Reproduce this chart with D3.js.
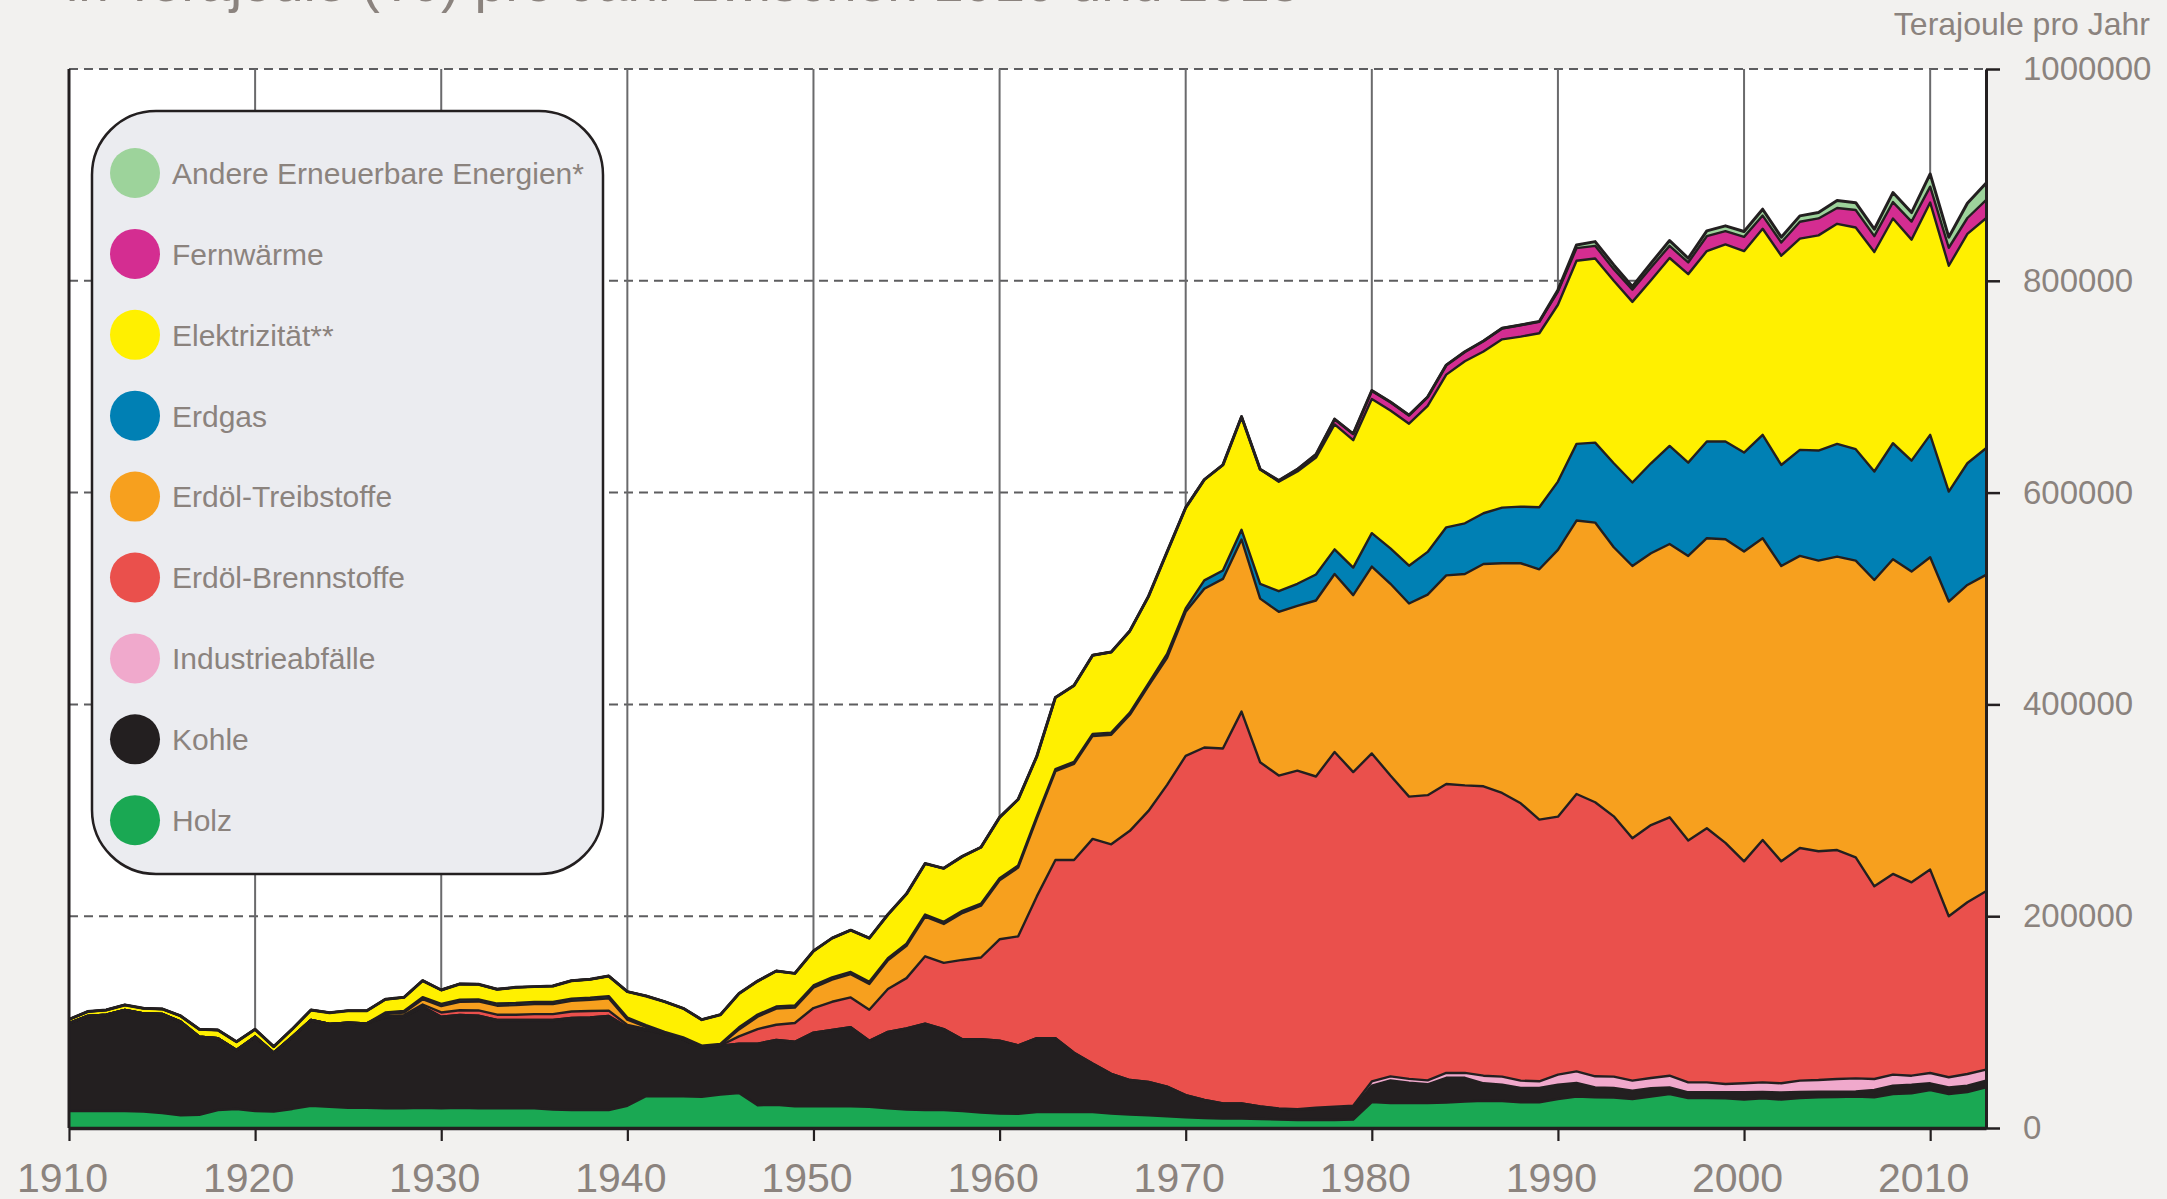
<!DOCTYPE html>
<html><head><meta charset="utf-8">
<script src="https://cdn.jsdelivr.net/npm/d3@7"></script>
<style>
body{margin:0;background:#f2f1ef;}
svg text{font-family:'Liberation Sans',Arial,sans-serif;}
</style>
</head><body>
<svg id="chart" width="2167" height="1199"></svg>
<script>
// ---- DATA (values in thousand TJ per year) ----
const firstYear = 1910, lastYear = 2013;
const decades = [1910,1920,1930,1940,1950,1960,1970,1980,1990,2000,2010];
const yTicks = [0,200000,400000,600000,800000,1000000];

const holz = [16,16,16,16,15.5,14,12,12.5,17,18,
  16,15.5,18,21,20,19,19,18.5,18.5,19,
  18.5,19,18.5,18.5,18.5,18.5,17.5,17,17,17,
  21,30,30,30,29.5,31.5,33,21.5,22,20.5,
  20.5,20.5,20.5,20,18.5,17.5,17,17,16,14.5,
  13.7,13.4,15,15,15,15,13.7,12.7,12,11,
  10,9.5,9,9,8.5,8,7.5,7.5,7.5,8,
  24.5,23.5,23.5,23.5,24,25,25.8,25.5,24.2,24.2,
  27.4,29.6,29,28.7,27.4,29.6,32.1,28.3,28.3,28,
  26.8,28,26.8,28.3,29,29.3,29.6,29,32.1,32.7,
  35.9,32.1,34,38.4];
const kohle = [83,89.8,91,95.4,92.8,93.7,88.4,73.8,67.7,55.7,
  70.3,55.6,68.3,81,78.2,80.5,79.8,86,86.6,95.6,
  86.6,87.7,87.5,83.5,83.5,83.5,84.5,87,87.5,88.8,
  74.1,62.6,58.8,53.7,46.7,46.2,46.7,58.2,61.1,60.9,
  69.5,72.2,74.6,62.4,72.2,76.6,81.6,76.4,67.8,69.3,
  68.7,64.6,69.8,69.8,56.1,45.8,37.5,32.6,31.6,28,
  21,17,14.2,14.2,11.9,10.1,9.7,10.6,11,11,
  15.5,21.5,19.2,17.8,23.4,22.4,16.4,15.5,13.6,13.6,
  13.5,12.9,9.4,9.1,7.9,7.9,6.3,5.4,5.4,5.7,
  6.9,6,6.7,5.7,5.3,5,5,6.9,7.9,8.2,
  6.3,6.3,6,6.3];
const industrie = [0,0,0,0,0,0,0,0,0,0,
  0,0,0,0,0,0,0,0,0,0,
  0,0,0,0,0,0,0,0,0,0,
  0,0,0,0,0,0,0,0,0,0,
  0,0,0,0,0,0,0,0,0,0,
  0,0,0,0,0,0,0,0,0,0,
  0,0,0,0,0,0.3,0.5,1,1.5,2,
  4,3.7,3.7,3.7,4.6,4.6,7.2,7.5,6.9,6.3,
  9.5,11,10.4,10.7,9.4,9.7,11,9.4,9.4,7.9,
  8.5,9.1,8.7,10.7,11,12,12.3,10.4,10.4,8.5,
  9.7,9.5,11,10.4];
const brenn = [0,0,0,0,0,0,0,0,0,0,
  0,0,0,0,0,0,0,1,1.5,2,
  4,4.5,5,5,5,5.5,5.5,6,6,5,
  2.2,1,0,0,0,0.2,6.8,13.7,14.4,17.8,
  23.3,26.5,28.2,29.2,40.5,47.4,63.5,62.5,74.9,77.2,
  95.8,103,133.9,168.3,182,212.2,216.7,235.3,255.8,285,
  320.4,332.8,335.2,370,325,314.4,319.8,312.8,335.1,315.1,
  309.7,284.1,266.5,269.3,272.9,271.5,273.3,267.9,261.9,247.1,
  243.6,261.9,258.8,245.8,228.9,238.9,244,228.3,239.9,227.6,
  209.6,228.9,209.6,219.7,216,216.2,208.7,181.9,189.5,182.6,
  192.1,152,162.1,168.4];
const treib = [0,0,0,0,0,0,0,0,0,0,
  0,0,0,0,0,0,0,2,2.5,5,
  6,8,8.5,8.5,9,9.5,9.5,10,10.5,11.7,
  5,2,0.5,0.3,0.2,0.3,6.6,11.7,15.2,14.5,
  19.3,21,22,24.4,27.2,30.6,37.5,36.8,44.3,48.9,
  55.7,64.9,73.6,83.8,90.7,97.2,103.4,109.6,118,120,
  136,149.9,160.1,162.5,154.5,154.6,155.5,166.2,168,167.1,
  176.4,181.1,182.4,189.4,196.9,199.6,209.9,216.9,226.7,236.4,
  251.9,258.2,264.1,254.1,257.1,256.6,258.1,268.8,273.9,286.7,
  292.5,284.9,278.9,275.8,274.5,277.1,280.2,289.3,297.1,293.4,
  294.9,297.2,299.7,298.8];
const erdgas = [0,0,0,0,0,0,0,0,0,0,
  0,0,0,0,0,0,0,1.5,1.5,2,
  2,2,2,2,2,2,2,2,2,2,
  2,1.5,1.5,1.5,1.4,1.2,2,2,2,2,
  2,2,2,2,2,2,2,2,2,2,
  2,2,2,2,2,2,2,2,2.5,3.7,
  3.3,7.9,7.9,9.2,14,19.5,20.9,24.6,23.3,26,
  31.6,33.4,35.7,40.3,45.4,47.9,47.9,52.5,53.5,58.6,
  64.5,72.4,75.5,79.3,78.8,85,92.6,88.1,91.3,92.3,
  93.5,97.6,95.4,100.1,103.9,106.4,105.2,102.4,109.6,104.8,
  115.6,103.9,114.9,119.6];
const elek = [3.5,4.1,4.4,4.8,4.7,4.7,5.4,6.9,7.9,7.8,
  6.9,5.7,7.2,9.4,10.7,11.3,12,12.5,12.8,15.5,
  13.2,14.8,14.2,13.5,14.8,14.5,15.1,17.1,17.4,19,
  24.5,27.6,28.5,27.5,24.5,27.6,31.9,31.6,33.6,30.3,
  32.6,37.1,39.5,41.3,41.2,47,48.1,50.5,51.5,53.2,
  57.4,62.5,56.7,67.7,72.1,74.2,76.2,77.2,82.1,96.3,
  95.1,95.2,99.8,106.8,108.1,103.4,106.1,110.3,118,120.3,
  126.6,130.3,134.1,137.8,144.2,153,152.7,158.9,160.5,164.3,
  167,172.9,173.8,172.3,170.6,172.9,177.4,178,179.9,186.2,
  190.2,194.6,197.6,199.5,203.2,207.8,209.3,207.3,212.2,208.7,
  219.4,213.2,216.6,217.2];
const fern = [0,0,0,0,0,0,0,0,0,0,
  0,0,0,0,0,0,0,0,0,0,
  0,0,0,0,0,0,0,0,0,0,
  0,0,0,0,0,0,0,0,0,0,
  0,0,0,0,0,0,0,0,0,0,
  0,0,0,0,0,0,0,0,0,0,
  0,0,0,0,0,1,2,3,5,6,
  8,8,8,8.5,9,9,10,10.5,11,11,
  12.5,12,12,11,11.5,12,11.5,11,14,12.5,
  13.5,12.5,12.5,16,16,15,16.5,15,15.5,17,
  15,17,15,17];
const andere = [0,0,0,0,0,0,0,0,0,0,
  0,0,0,0,0,0,0,0,0,0,
  0,0,0,0,0,0,0,0,0,0,
  0,0,0,0,0,0,0,0,0,0,
  0,0,0,0,0,0,0,0,0,0,
  0,0,0,0,0,0,0,0,0,0,
  0,0,0,0,0,0,0,0,0,0,
  0,0,0,0,0,0,0,0,0,0,
  1.5,3,4,4,3,4,5,4,5,5,
  5,6,5,5.5,5.5,7,7,6.5,9,8.5,
  12,10,14,16];

// series, bottom to top
const seriesNames = ["Holz","Kohle","Industrieabfälle","Erdöl-Brennstoffe","Erdöl-Treibstoffe","Erdgas","Elektrizität**","Fernwärme","Andere Erneuerbare Energien*"];
const seriesValues = [holz,kohle,industrie,brenn,treib,erdgas,elek,fern,andere];
const seriesColors = ["#1aa853","#231f20","#f0a9cc","#ea504c","#f7a01e","#0080b4","#fff000","#d42d91","#9dd39b"];

// ---- BUILD ----
const years = d3.range(firstYear, lastYear + 1);
const table = years.map((yr, i) => {
  const row = {year: yr};
  seriesNames.forEach((n, k) => row[n] = seriesValues[k][i] * 1000);
  return row;
});

const textColor = "#8b837e";
const ink = "#231f20";
const svg = d3.select("#chart");

const x = d3.scaleLinear().domain([firstYear, lastYear]).range([69, 1986]);
const y = d3.scaleLinear().domain([0, 1000000]).range([1128, 69]);

svg.append("rect").attr("width", 2167).attr("height", 1199).attr("fill", "#f2f1ef");
svg.append("rect").attr("x", x(firstYear)).attr("y", y(1000000))
  .attr("width", x(lastYear) - x(firstYear)).attr("height", y(0) - y(1000000)).attr("fill", "#ffffff");

// grid
svg.append("g").selectAll("line").data(yTicks.filter(d => d > 0)).join("line")
  .attr("x1", x(firstYear)).attr("x2", x(lastYear))
  .attr("y1", d => y(d)).attr("y2", d => y(d))
  .attr("stroke", "#5d5d5f").attr("stroke-width", 2).attr("stroke-dasharray", "9,6");
svg.append("g").selectAll("line").data(decades.filter(d => d > firstYear)).join("line")
  .attr("x1", d => x(d)).attr("x2", d => x(d))
  .attr("y1", y(1000000)).attr("y2", y(0))
  .attr("stroke", "#6a6a6c").attr("stroke-width", 2);

// stacked areas
const stack = d3.stack().keys(seriesNames);
const layers = stack(table);
const area = d3.area().x(d => x(d.data.year)).y0(d => y(d[0])).y1(d => y(d[1]));
const topLine = d3.line().x(d => x(d.data.year)).y(d => y(d[1]));

svg.append("g").selectAll("path").data(layers).join("path")
  .attr("d", area).attr("fill", (d, i) => seriesColors[i]);
svg.append("g").selectAll("path").data(layers).join("path")
  .attr("d", topLine).attr("fill", "none").attr("stroke", ink)
  .attr("stroke-width", (d, i) => i === layers.length - 1 ? 3 : 2.4)
  .attr("stroke-linejoin", "round");

// left border
svg.append("line").attr("x1", x(firstYear)).attr("x2", x(firstYear))
  .attr("y1", y(1000000)).attr("y2", y(0)).attr("stroke", ink).attr("stroke-width", 3);

// bottom axis
const xAxis = svg.append("g").attr("transform", `translate(0,${y(0)})`)
  .call(d3.axisBottom(x).tickValues(decades).tickSize(13).tickSizeOuter(0).tickPadding(22).tickFormat(d3.format("d")));
xAxis.select(".domain").attr("stroke", ink).attr("stroke-width", 3.5);
xAxis.selectAll(".tick line").attr("stroke", ink).attr("stroke-width", 2.2);
xAxis.selectAll(".tick text").attr("fill", textColor).attr("font-size", 41).attr("dx", -7)
  .attr("font-family", "'Liberation Sans',Arial,sans-serif");

// right axis
const yAxis = svg.append("g").attr("transform", `translate(${x(lastYear)},0)`)
  .call(d3.axisRight(y).tickValues(yTicks).tickSize(14).tickSizeOuter(0).tickPadding(23).tickFormat(d3.format("d")));
yAxis.select(".domain").attr("stroke", ink).attr("stroke-width", 3);
yAxis.selectAll(".tick line").attr("stroke", ink).attr("stroke-width", 2.5);
yAxis.selectAll(".tick text").attr("fill", textColor).attr("font-size", 33)
  .attr("font-family", "'Liberation Sans',Arial,sans-serif");

// unit label and (cut) title
svg.append("text").attr("x", 2150).attr("y", 35).attr("text-anchor", "end")
  .attr("fill", textColor).attr("font-size", 32).text("Terajoule pro Jahr");
svg.append("text").attr("x", 66).attr("y", 1)
  .attr("fill", textColor).attr("font-size", 55).text("in Terajoule (TJ) pro Jahr zwischen 1910 und 2013");

// legend
const legend = svg.append("g");
legend.append("rect").attr("x", 92).attr("y", 111).attr("width", 511).attr("height", 763)
  .attr("rx", 64).attr("ry", 64).attr("fill", "#ebecf0").attr("stroke", ink).attr("stroke-width", 2.5);
const legendOrder = d3.range(seriesNames.length).reverse();
const items = legend.selectAll("g.item").data(legendOrder).join("g").attr("class", "item")
  .attr("transform", (d, i) => `translate(0,${173 + i * 80.9})`);
items.append("circle").attr("cx", 135).attr("cy", 0).attr("r", 25).attr("fill", d => seriesColors[d]);
items.append("text").attr("x", 172).attr("y", 0).attr("dy", "0.36em")
  .attr("fill", textColor).attr("font-size", 30).text(d => seriesNames[d]);
</script>
</body></html>
